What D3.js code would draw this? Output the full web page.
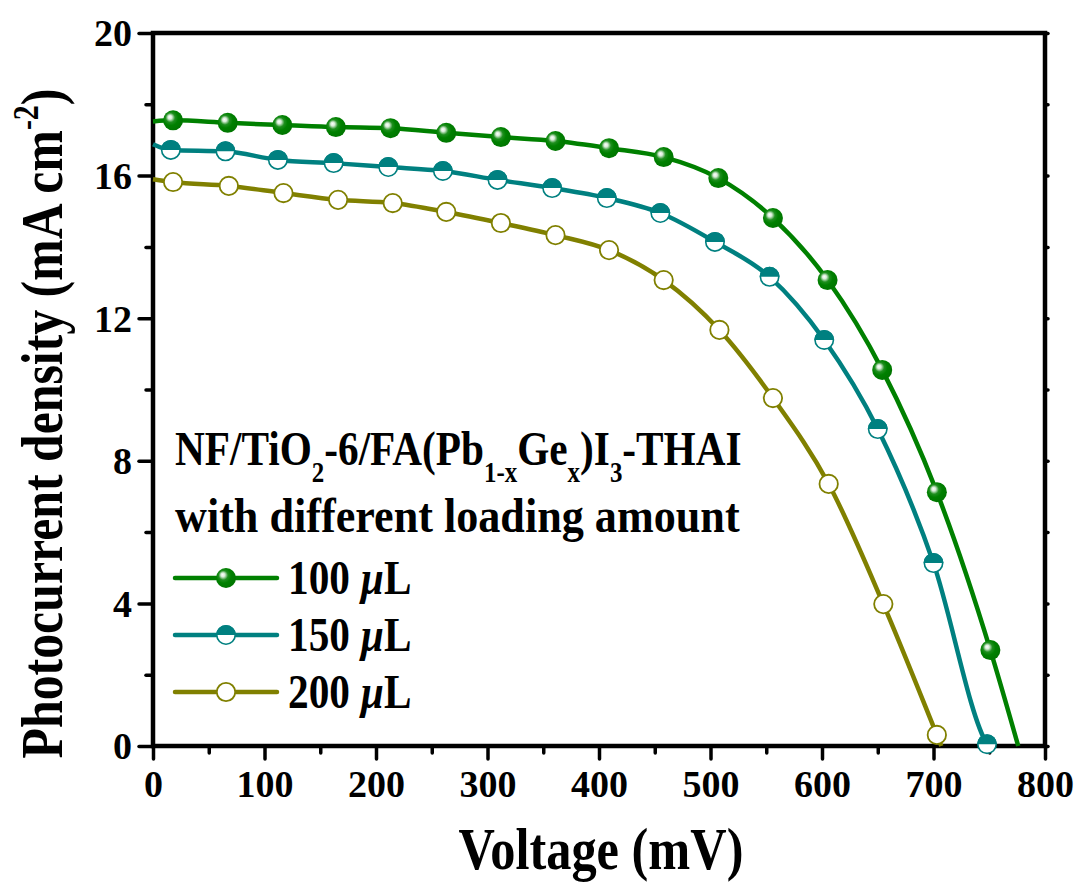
<!DOCTYPE html>
<html>
<head>
<meta charset="utf-8">
<script src="https://cdn.jsdelivr.net/npm/d3@7"></script>
<style>
  html, body { margin: 0; padding: 0; background: #fff; }
  svg text { font-family: "Liberation Serif", "Times New Roman", serif; font-weight: bold; fill: #000; }
</style>
</head>
<body>
<svg id="chart" width="1078" height="884"></svg>
<script>
// ---- data ----
const seriesNames = ["100", "150", "200"];

const voltage100 = [18, 67, 116, 164, 213, 263, 312, 361, 409, 458, 507, 556, 605, 654, 703, 751];
const current100 = [17.55, 17.48, 17.42, 17.36, 17.33, 17.2, 17.08, 16.97, 16.77, 16.52, 15.93, 14.81, 13.07, 10.55, 7.12, 2.69];

const voltage150 = [16, 65, 112, 162, 211, 260, 309, 358, 407, 455, 504, 553, 602, 650, 700, 748];
const current150 = [16.72, 16.68, 16.44, 16.35, 16.24, 16.13, 15.88, 15.65, 15.37, 14.95, 14.14, 13.16, 11.39, 8.89, 5.13, 0.05];

const voltage200 = [18, 68, 117, 166, 215, 263, 312, 361, 409, 458, 508, 556, 606, 655, 703];
const current200 = [15.82, 15.71, 15.51, 15.32, 15.23, 14.98, 14.67, 14.33, 13.91, 13.07, 11.67, 9.76, 7.35, 3.98, 0.31];

// short-circuit current (at 0 mV) and open-circuit voltage (at 0 mA) per series
const jscValues = [17.52, 16.88, 15.9];
const vocValues = [776, 749, 707];

const xTicks = [0, 100, 200, 300, 400, 500, 600, 700, 800];
const yTicks = [0, 4, 8, 12, 16, 20];

// ---- layout ----
const W = 1078, H = 884;
const margin = { top: 33, right: 33, bottom: 138, left: 153 };
const colors = { "100": "#008000", "150": "#008080", "200": "#808000" };
const markerR = 10;

const svg = d3.select("#chart");
const defs = svg.append("defs");

const grad = defs.append("radialGradient")
    .attr("id", "ball")
    .attr("cx", 0.42).attr("cy", 0.42).attr("r", 0.62)
    .attr("fx", 0.33).attr("fy", 0.33);
grad.append("stop").attr("offset", "0%").attr("stop-color", "#ffffff");
grad.append("stop").attr("offset", "16%").attr("stop-color", "#d8ecd8");
grad.append("stop").attr("offset", "38%").attr("stop-color", "#1f8f1f");
grad.append("stop").attr("offset", "60%").attr("stop-color", "#008000");
grad.append("stop").attr("offset", "100%").attr("stop-color", "#007400");

const x = d3.scaleLinear().domain([0, 800]).range([margin.left, W - margin.right]);
const y = d3.scaleLinear().domain([0, 20]).range([H - margin.bottom, margin.top]);

const series = [
    { name: "100", v: voltage100, j: current100 },
    { name: "150", v: voltage150, j: current150 },
    { name: "200", v: voltage200, j: current200 }
].map((s, i) => {
    const pts = s.v.map((v, k) => ({ v: v, j: s.j[k] }));
    const line = [{ v: 0, j: jscValues[i] }].concat(pts);
    if (vocValues[i] > pts[pts.length - 1].v) line.push({ v: vocValues[i], j: 0 });
    return { name: s.name, markers: pts, line: line };
});

// ---- axes ----
const xAxis = d3.axisBottom(x).tickValues(d3.range(0, 801, 50)).tickSize(13)
    .tickFormat(d => xTicks.includes(d) ? d : "");
const gx = svg.append("g").attr("transform", `translate(0,${y(0)})`).call(xAxis);
gx.selectAll(".tick").filter(d => !xTicks.includes(d)).select("line").attr("y2", 7);

const yAxis = d3.axisLeft(y).tickValues(d3.range(0, 21, 2)).tickSize(14)
    .tickFormat(d => yTicks.includes(d) ? d : "");
const gy = svg.append("g").attr("transform", `translate(${x(0)},0)`).call(yAxis);
gy.selectAll(".tick").filter(d => !yTicks.includes(d)).select("line").attr("x2", -7);

const gr = svg.append("g").attr("transform", `translate(${x(800)},0)`)
    .call(d3.axisRight(y).tickValues(d3.range(0, 21, 2)).tickSize(3).tickFormat(""));

[gx, gy, gr].forEach(g => {
    g.select(".domain").remove();
    g.selectAll(".tick line").attr("stroke", "#000").attr("stroke-width", 3.5).attr("stroke-linecap", "round");
});
gx.selectAll(".tick text").attr("dy", null).attr("y", 51)
    .style("font-size", "38px").style("font-family", "'Liberation Serif', serif").style("font-weight", "bold");
gy.selectAll(".tick text").attr("x", -21).attr("dy", "0.34em")
    .style("font-size", "38px").style("font-family", "'Liberation Serif', serif").style("font-weight", "bold");

// frame
svg.append("rect")
    .attr("x", x(0)).attr("y", y(20))
    .attr("width", x(800) - x(0)).attr("height", y(0) - y(20))
    .attr("fill", "none").attr("stroke", "#000").attr("stroke-width", 4.5);

// ---- curves ----
const lineGen = d3.line().x(d => x(d.v)).y(d => y(d.j)).curve(d3.curveMonotoneX);

function drawMarker(g, name) {
    const c = colors[name];
    if (name === "100") {
        g.append("circle").attr("r", markerR).attr("fill", "url(#ball)");
    } else if (name === "150") {
        g.append("circle").attr("r", markerR - 0.8).attr("fill", "#fff").attr("stroke", c).attr("stroke-width", 1.6);
        g.append("path").attr("d", `M${-markerR},0 A${markerR},${markerR} 0 0 1 ${markerR},0 Z`).attr("fill", c);
    } else {
        g.append("circle").attr("r", markerR - 0.8).attr("fill", "#fff").attr("stroke", c).attr("stroke-width", 1.8);
    }
}

series.forEach(s => {
    svg.append("path")
        .attr("d", lineGen(s.line))
        .attr("fill", "none")
        .attr("stroke", colors[s.name])
        .attr("stroke-width", 4.5);
});
series.forEach(s => {
    s.markers.forEach(p => {
        const g = svg.append("g").attr("transform", `translate(${x(p.v)},${y(p.j)})`);
        drawMarker(g, s.name);
    });
});

// ---- axis titles (squeezed horizontally like the original typeface) ----
svg.append("g").attr("transform", `translate(${(x(0) + x(800)) / 2 + 2},869) scale(0.84,1)`)
    .append("text").attr("text-anchor", "middle").style("font-size", "60px")
    .text("Voltage (mV)");

const yt = svg.append("g").attr("transform", `translate(62,${(y(0) + y(20)) / 2 + 34}) rotate(-90) scale(0.83,1)`)
    .append("text").attr("text-anchor", "middle").style("font-size", "60px");
yt.append("tspan").text("Photocurrent density (mA cm");
yt.append("tspan").attr("dy", -24).style("font-size", "36px").text("-2");
yt.append("tspan").attr("dy", 24).text(")");

// ---- legend ----
const t1 = svg.append("g").attr("transform", "translate(175,465) scale(0.86,1)")
    .append("text").style("font-size", "48px");
[["NF/TiO", 0], ["2", 1], ["-6/FA(Pb", 0], ["1-x", 1], ["Ge", 0], ["x", 1], [")I", 0], ["3", 1], ["-THAI", 0]]
    .forEach(([txt, sub], i, arr) => {
        const prevSub = i > 0 && arr[i - 1][1];
        const dy = sub ? 17 : (prevSub ? -17 : 0);
        t1.append("tspan").attr("dy", dy).style("font-size", sub ? "29px" : "48px").text(txt);
    });

svg.append("g").attr("transform", "translate(175,532) scale(0.92,1)")
    .append("text").style("font-size", "48px").text("with different loading amount");

const legendY = [578, 635, 692];
seriesNames.forEach((name, i) => {
    const ly = legendY[i];
    svg.append("line").attr("x1", 175).attr("x2", 277).attr("y1", ly).attr("y2", ly)
        .attr("stroke", colors[name]).attr("stroke-width", 4.5).attr("stroke-linecap", "round");
    const g = svg.append("g").attr("transform", `translate(226,${ly})`);
    drawMarker(g, name);
    const t = svg.append("g").attr("transform", `translate(288,${ly + 16}) scale(0.86,1)`)
        .append("text").style("font-size", "48px");
    t.append("tspan").text(name + " ");
    t.append("tspan").style("font-style", "italic").text("\u00b5");
    t.append("tspan").text("L");
});
</script>
</body>
</html>
